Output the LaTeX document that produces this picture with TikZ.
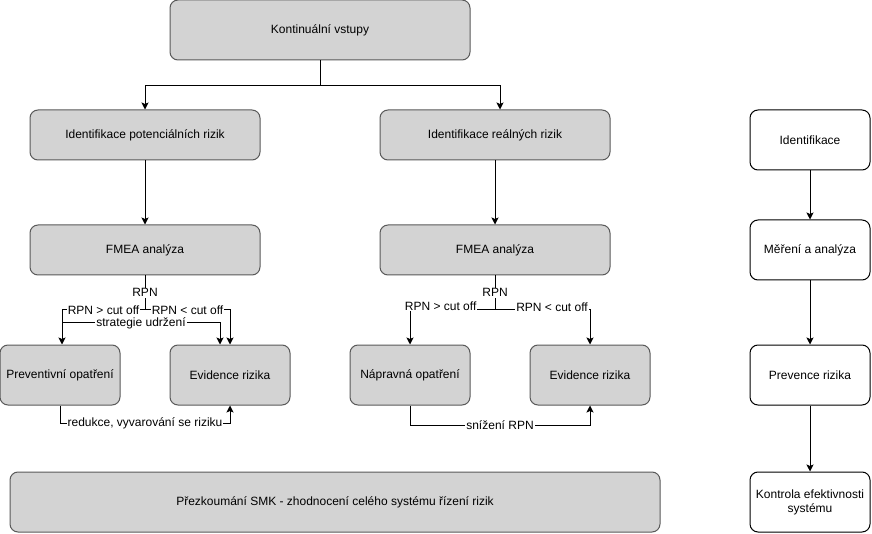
\documentclass[tikz,border=0pt]{standalone}
\usepackage{fontspec}
\setmainfont{Liberation Sans}
\usetikzlibrary{arrows.meta}
\definecolor{boxgray}{HTML}{D3D3D3}
\begin{document}
\begin{tikzpicture}[x=1pt, y=-1pt, font=\fontsize{12}{14}\selectfont,
  main/.style = {draw=black!65, fill=boxgray, rounded corners=8pt, align=center, line width=1pt},
  side/.style = {draw, fill=white, rounded corners=8pt, align=center, line width=1pt, minimum width=120pt, minimum height=60pt},
  wide/.style = {minimum width=230pt, minimum height=50pt},
  small/.style = {minimum width=120pt, minimum height=60pt},
  flow/.style = {-{Stealth[length=7pt, width=7pt, inset=1.5pt]}, line width=1pt},
  lbl/.style = {fill=white, inner sep=1pt}]
\useasboundingbox (0,0) rectangle (872,534);

\node[main, minimum width=300pt, minimum height=60pt] (vstupy) at (320,30) {Kontinuální vstupy};
\node[main, wide] (potenc) at (145,135) {Identifikace potenciálních rizik};
\node[main, wide] (realne) at (495,135) {Identifikace reálných rizik};
\node[main, wide] (fmeaL) at (145,250) {FMEA analýza};
\node[main, wide] (fmeaR) at (495,250) {FMEA analýza};
\node[main, small] (prevL) at (60,375) {Preventivní opatření};
\node[main, small] (evidL) at (230,375) {Evidence rizika};
\node[main, small] (napr) at (410,375) {Nápravná opatření};
\node[main, small] (evidR) at (590,375) {Evidence rizika};
\node[main, minimum width=650pt, minimum height=60pt] (prezk) at (335,502) {Přezkoumání SMK - zhodnocení celého systému řízení rizik};

\node[side] (ident) at (810,140) {Identifikace};
\node[side] (mereni) at (810,250) {Měření a analýza};
\node[side] (prevence) at (810,375) {Prevence rizika};
\node[side] (kontrola) at (810,502) {Kontrola efektivnosti\\systému};

\coordinate (splitL) at (145,310);
\coordinate (splitR) at (495,310);
\coordinate (stratL) at (62,323);

\draw[flow] (vstupy.south) -- ++(0,25) -| (potenc.north);
\draw[flow] (vstupy.south) -- ++(0,25) -| ([xshift=5pt]realne.north);
\draw[flow] (potenc) -- (fmeaL);
\draw[flow] (realne) -- (fmeaR);

\draw[line width=1pt] (fmeaL.south) -- node[lbl] {RPN} (splitL);
\draw[flow] (splitL) -| node[lbl, pos=0.25] {RPN > cut off} ([xshift=2pt]prevL.north);
\draw[flow] (splitL) -| node[lbl, pos=0.25] {RPN < cut off} (evidL.north);
\draw[flow] (stratL) -| node[lbl, pos=0.25] {strategie udržení} ([xshift=-10pt]evidL.north);
\draw[flow] (prevL.south) -- ++(0,18) -| node[lbl, pos=0.25] {redukce, vyvarování se riziku} (evidL.south);

\draw[line width=1pt] (fmeaR.south) -- node[lbl] {RPN} (splitR);
\draw[flow] (splitR) -| node[lbl, pos=0.32, yshift=4pt] {RPN > cut off} (napr.north);
\draw[flow] (splitR) -| node[lbl, pos=0.3, yshift=3pt] {RPN < cut off} (evidR.north);
\draw[flow] (napr.south) -- ++(0,20) -| node[lbl, pos=0.25] {snížení RPN} (evidR.south);

\draw[flow] (ident) -- (mereni);
\draw[flow] (mereni) -- (prevence);
\draw[flow] (prevence) -- (kontrola);
\end{tikzpicture}
\end{document}
